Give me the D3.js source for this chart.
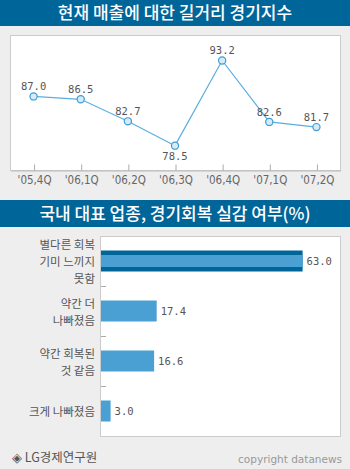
<!DOCTYPE html>
<html><head><meta charset="utf-8">
<script src="https://cdn.jsdelivr.net/npm/d3@7"></script>
<style>
html,body{margin:0;padding:0;background:#eeeeee;}
svg{display:block;}
</style></head>
<body>
<script>
// ---- data ----
const title1 = "현재 매출에 대한 길거리 경기지수";
const quarters = ["'05,4Q","'06,1Q","'06,2Q","'06,3Q","'06,4Q","'07,1Q","'07,2Q"];
const indexValues = [87.0, 86.5, 82.7, 78.5, 93.2, 82.6, 81.7];

const title2 = "국내 대표 업종, 경기회복 실감 여부(%)";
const answers = [["별다른 회복","기미 느끼지","못함"],["약간 더","나빠졌음"],["약간 회복된","것 같음"],["크게 나빠졌음"]];
const answerValues = [63.0, 17.4, 16.6, 3.0];

const sourceText = "◈ LG경제연구원";
const copyText = "copyright datanews";

const W = 350, H = 469;
const svg = d3.select("body").append("svg").attr("width", W).attr("height", H);
svg.append("rect").attr("width", W).attr("height", H).attr("fill", "#eeeeee");

const headerBlue = "#006699";
const kfont = "'Noto Sans CJK KR', 'Noto Sans', sans-serif";
const numFont = "'DejaVu Sans Mono', monospace";

// header 1
svg.append("rect").attr("x", 0).attr("y", 0).attr("width", W).attr("height", 26).attr("fill", headerBlue);
svg.append("text").attr("x", 175).attr("y", 13).attr("dy", "0.36em").attr("text-anchor", "middle")
  .attr("fill", "#fff").attr("font-family", kfont).attr("font-size", 17).attr("font-weight", 500)
  .text(title1);

// panel 1
const p1 = {x0: 10, x1: 340, y0: 35, y1: 170};
svg.append("rect").attr("x", p1.x0 + 0.5).attr("y", p1.y0 + 0.5).attr("width", p1.x1 - p1.x0).attr("height", p1.y1 - p1.y0)
  .attr("fill", "#fff").attr("stroke", "#cccccc");

const x1 = d3.scalePoint().domain(quarters).range([p1.x0, p1.x1]).padding(0.5);
const y1 = d3.scaleLinear().domain([74.3, 97.6]).range([p1.y1, p1.y0]);

const gx = svg.append("g").attr("transform", `translate(0.5,${p1.y1 + 0.5})`)
  .call(d3.axisBottom(x1).tickSizeInner(-6).tickSizeOuter(0).tickPadding(5));
gx.select(".domain").attr("stroke", "#bbbbbb");
gx.selectAll(".tick line").attr("stroke", "#aaaaaa");
gx.selectAll(".tick text").attr("fill", "#666").attr("font-family", "'DejaVu Sans Condensed','DejaVu Sans',sans-serif").attr("font-size", 11.5);

const line = d3.line().x((d, i) => x1(quarters[i])).y(d => y1(d));
svg.append("path").datum(indexValues).attr("d", line).attr("fill", "none").attr("stroke", "#5aaee0").attr("stroke-width", 1.2);
svg.selectAll("circle.pt").data(indexValues).join("circle").attr("class", "pt")
  .attr("cx", (d, i) => x1(quarters[i])).attr("cy", d => y1(d)).attr("r", 3.6)
  .attr("fill", "#d6eaf8").attr("stroke", "#3f9bd3").attr("stroke-width", 1.2);
svg.selectAll("text.vl").data(indexValues).join("text").attr("class", "vl")
  .attr("x", (d, i) => x1(quarters[i])).attr("y", (d, i) => i === 3 ? y1(d) + 11 : y1(d) - 10)
  .attr("dy", "0.36em").attr("text-anchor", "middle").attr("fill", "#555")
  .attr("font-family", numFont).attr("font-size", 10.5).text(d => d.toFixed(1));

// header 2
svg.append("rect").attr("x", 0).attr("y", 200).attr("width", W).attr("height", 27).attr("fill", headerBlue);
svg.append("text").attr("x", 175).attr("y", 213.5).attr("dy", "0.36em").attr("text-anchor", "middle")
  .attr("fill", "#fff").attr("font-family", kfont).attr("font-size", 17).attr("font-weight", 500)
  .text(title2);

// panel 2
const p2 = {x0: 100, x1: 340, y0: 236, y1: 436};
svg.append("rect").attr("x", p2.x0 + 0.5).attr("y", p2.y0 + 0.5).attr("width", p2.x1 - p2.x0).attr("height", p2.y1 - p2.y0)
  .attr("fill", "#fff").attr("stroke", "#cccccc");

const cats = answers.map(a => a.join(" "));
const y2 = d3.scaleBand().domain(cats).range([p2.y0, p2.y1]).paddingInner(0.58).paddingOuter(0.29);
const x2 = d3.scaleLinear().domain([0, 75]).range([p2.x0, p2.x1]);
const step = y2.step();

// ticks between bands
svg.selectAll("line.bt").data(cats.slice(1)).join("line").attr("class", "bt")
  .attr("x1", p2.x0 + 1).attr("x2", p2.x0 + 6)
  .attr("y1", d => y2(d) - y2.paddingInner() * step / 2 + 0.5)
  .attr("y2", d => y2(d) - y2.paddingInner() * step / 2 + 0.5)
  .attr("stroke", "#aaaaaa");

svg.selectAll("rect.bar").data(answerValues).join("rect").attr("class", "bar")
  .attr("x", p2.x0 + 1).attr("y", (d, i) => y2(cats[i]))
  .attr("width", d => x2(d) - p2.x0).attr("height", y2.bandwidth())
  .attr("fill", (d, i) => i === 0 ? headerBlue : "#4aa0d2");
// highlight inner for first bar
svg.append("rect").attr("x", p2.x0 + 1).attr("y", y2(cats[0]) + 4.5)
  .attr("width", x2(answerValues[0]) - p2.x0).attr("height", y2.bandwidth() - 9)
  .attr("fill", "#4aa0d2");

svg.selectAll("text.bv").data(answerValues).join("text").attr("class", "bv")
  .attr("x", d => x2(d) + 5).attr("y", (d, i) => y2(cats[i]) + y2.bandwidth() / 2)
  .attr("dy", "0.36em").attr("fill", "#555").attr("font-family", numFont).attr("font-size", 10.5)
  .text(d => d.toFixed(1));

// category labels (one text per line)
answers.forEach((lines, i) => {
  const cy = y2(cats[i]) + y2.bandwidth() / 2;
  const lh = 16.8;
  lines.forEach((l, j) => {
    svg.append("text").attr("text-anchor", "end").attr("fill", "#555")
      .attr("font-family", kfont).attr("font-size", 11.5)
      .attr("x", 95).attr("y", cy + (j - (lines.length - 1) / 2) * lh + 1).attr("dy", "0.36em").text(l);
  });
});

// footer
svg.append("text").attr("x", 12).attr("y", 457).attr("dy", "0.36em").attr("fill", "#555")
  .attr("font-family", kfont).attr("font-size", 12.5).text(sourceText);
svg.append("text").attr("x", 342).attr("y", 459).attr("dy", "0.36em").attr("text-anchor", "end").attr("fill", "#999")
  .attr("font-family", "'DejaVu Sans', sans-serif").attr("font-size", 10.5).text(copyText);
</script>
</body></html>
